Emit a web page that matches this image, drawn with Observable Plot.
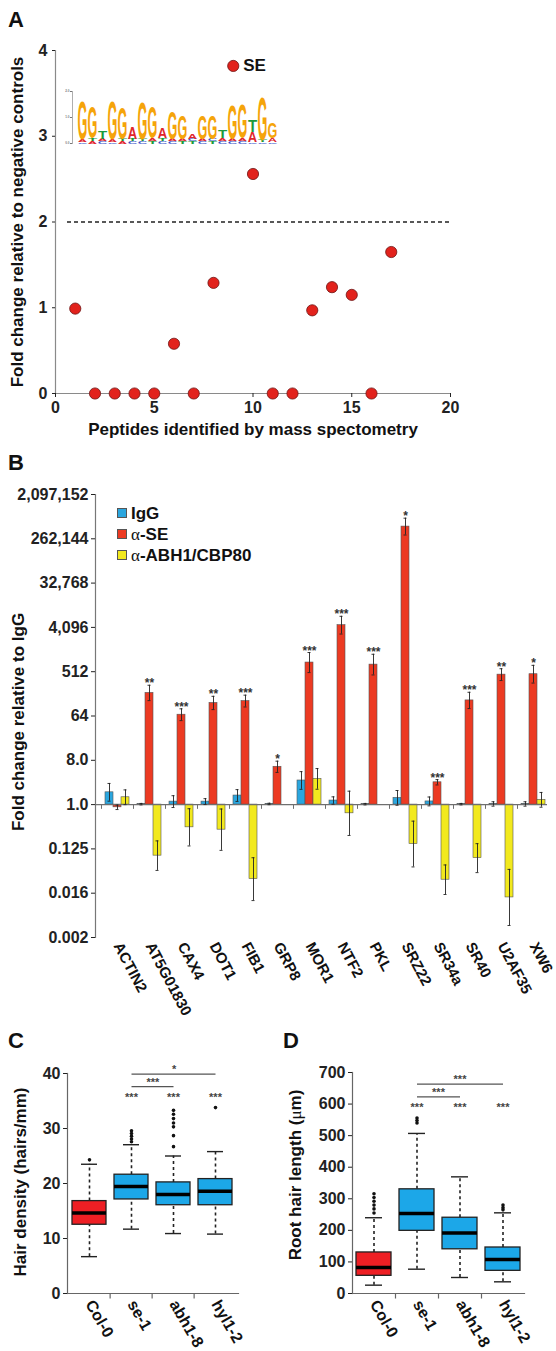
<!DOCTYPE html>
<html><head><meta charset="utf-8">
<script src="https://cdn.jsdelivr.net/npm/d3@7"></script>
<script src="https://cdn.jsdelivr.net/npm/@observablehq/plot@0.6"></script>
<style>
html,body{margin:0;padding:0;background:#fff;}
#root{position:relative;width:556px;height:1351px;overflow:hidden;font-family:"Liberation Sans",Arial,sans-serif;color:#111;}
#root svg{position:absolute;overflow:visible;}
.lbl{position:absolute;font-weight:bold;white-space:nowrap;line-height:1;}
.panel{font-size:22px;}
.title{font-size:17px;}
.rot{transform:translate(-50%,-50%) rotate(-90deg);}
.hx{transform:translate(-50%,-50%);}
.greek{font-family:"Liberation Serif","DejaVu Serif",serif;font-weight:normal;}
.legend{position:absolute;left:117px;top:503px;font-weight:bold;font-size:17px;line-height:21px;}
.legend .sw{display:inline-block;width:8px;height:8px;border:1px solid #555;margin-right:4px;vertical-align:1px;}
</style></head><body><div id="root"></div>
<script>
// ---------------- DATA ----------------
// Panel A
const peptideIds = [1,2,3,4,5,6,7,8,9,10,11,12,13,14,15,16,17];
const peptideFold = [0.99,0,0,0,0,0.58,0,1.29,3.82,2.56,0,0,0.97,1.24,1.15,0,1.65];
const peptideLabels = ["","","","","","","","","SE","","","","","","","",""];
const foldThreshold = 2;
const aTicksX = [0,5,10,15,20];
const aTicksY = [0,1,2,3,4];

// Motif logo (bits, bottom to top)
const logoColumns = [
  [["C",0.06],["A",0.12],["G",1.5]],
  [["A",0.1],["T",0.1],["G",1.2]],
  [["C",0.08],["A",0.1],["T",0.3]],
  [["C",0.06],["A",0.1],["G",1.5]],
  [["A",0.1],["T",0.08],["G",1.2]],
  [["C",0.08],["T",0.1],["A",0.45]],
  [["C",0.08],["T",0.1],["G",1.45]],
  [["T",0.08],["A",0.12],["G",1.2]],
  [["C",0.08],["T",0.12],["A",0.4]],
  [["C",0.08],["A",0.1],["G",1.05]],
  [["T",0.08],["A",0.1],["G",0.92]],
  [["T",0.08],["C",0.1],["A",0.22]],
  [["C",0.08],["A",0.1],["G",0.92]],
  [["T",0.1],["C",0.08],["G",0.92]],
  [["C",0.08],["A",0.12],["T",0.32]],
  [["C",0.08],["A",0.1],["G",1.3]],
  [["C",0.08],["A",0.12],["G",1.3]],
  [["C",0.06],["A",0.4],["T",0.45]],
  [["C",0.06],["T",0.08],["G",1.7]],
  [["C",0.06],["A",0.15],["G",0.6]]
];
const logoColors = {A:"#e0262c", C:"#3452c8", G:"#f5a40a", T:"#1c9a3b"};

// Panel B
const genes = ["ACTIN2","AT5G01830","CAX4","DOT1","FIB1","GRP8","MOR1","NTF2","PKL","SRZ22","SR34a","SR40","U2AF35","XW6"];
const iggFold = [1.78,1.02,1.15,1.15,1.53,1.03,3.1,1.21,1.02,1.37,1.16,1.02,1.03,1.03];
const seFold  = [0.88,189,68,118,129,5.9,787,4545,714,465000,2.85,133,446,455];
const abhFold = [1.41,0.091,0.344,0.308,0.0302,null,3.34,0.664,null,0.157,0.0294,0.081,0.0128,1.25];
const iggErrLog2 = [0.6,0.05,0.4,0.2,0.4,0.05,0.6,0.25,0.05,0.5,0.3,0.05,0.15,0.15];
const seErrLog2  = [0.15,0.52,0.4,0.45,0.4,0.38,0.68,0.6,0.7,0.57,0.18,0.55,0.4,0.6];
const abhErrLog2 = [0.5,1.0,1.26,1.4,1.45,null,0.7,1.5,null,1.55,1.0,0.98,1.9,0.5];
const seSignificance = ["","**","***","**","***","*","***","***","***","*","***","***","**","*"];
const seriesKeys = ["IgG","SE","ABH"];
const seriesLabels = ["IgG","α-SE","α-ABH1/CBP80"];
const seriesColors = ["#2aa6df","#ec3a22","#f2e91e"];
const foldTickValues = [2097152,262144,32768,4096,512,64,8,1,0.125,0.015625,0.001953125];
const foldTickLabels = ["2,097,152","262,144","32,768","4,096","512","64","8.0","1.0","0.125","0.016","0.002"];

// Panels C & D
const genotypes = ["Col-0","se-1","abh1-8","hyl1-2"];
const genotypeFills = ["#ee1f24","#1ca7e8","#1ca7e8","#1ca7e8"];
const hairQ1  = [12.5,17.1,16.05,16.05];
const hairMed = [14.65,19.45,18.0,18.6];
const hairQ3  = [16.8,21.6,20.2,20.8];
const hairLo  = [6.7,11.7,10.9,10.8];
const hairHi  = [23.5,27.05,25.0,25.8];
const hairOutliers = [["Col-0",[24.3]],["se-1",[27.6,28.1,28.6,29.1,29.6]],["abh1-8",[26.7,28.7,30.3,31.0,31.8,32.6,33.3]],["hyl1-2",[33.8]]];
const hairStars = [["se-1","***"],["abh1-8","***"],["hyl1-2","***"]];
const hairStarLevel = 35.6;
const hairBrackets = [["se-1","hyl1-2",39.9,"*"],["se-1","abh1-8",37.6,"***"]];
const hairTicks = [0,10,20,30,40];

const rootQ1  = [56,198.5,140,71.8];
const rootMed = [82,253,192,107.7];
const rootQ3  = [130,330,240,145.7];
const rootLo  = [26.4,77,50.7,37];
const rootHi  = [240,507,369.5,255.5];
const rootOutliers = [["Col-0",[255,268,280,292,304,316]],["se-1",[540,548,556]],["abh1-8",[]],["hyl1-2",[265,272,280]]];
const rootStars = [["se-1","***"],["abh1-8","***"],["hyl1-2","***"]];
const rootStarLevel = 588;
const rootBrackets = [["se-1","hyl1-2",663,"***"],["se-1","abh1-8",623,"***"]];
const rootTicks = [0,100,200,300,400,500,600,700];

// ---------------- LAYOUT HELPERS ----------------
const root = document.getElementById("root");
const FONT = '"Liberation Sans", Arial, sans-serif';
const baseStyle = {fontFamily: FONT, fontWeight: "bold", background: "transparent", color: "#111", overflow: "visible"};
function put(svg, left, top) { svg.style.left = left + "px"; svg.style.top = top + "px"; root.appendChild(svg); return svg; }
function addText(html, cls, left, top) {
  const d = document.createElement("div");
  d.className = "lbl " + cls; d.innerHTML = html;
  d.style.left = left + "px"; d.style.top = top + "px";
  root.appendChild(d);
}

// ---------------- PANEL A ----------------
const peptides = peptideIds.map((id, i) => ({id, fold: peptideFold[i], label: peptideLabels[i]}));
const plotA = Plot.plot({
  width: 556, height: 440, marginLeft: 55, marginRight: 106, marginTop: 50, marginBottom: 47,
  style: {...baseStyle, fontSize: "16px"},
  x: {domain: [0, 20]}, y: {domain: [0, 4]},
  marks: [
    Plot.ruleY([foldThreshold], {stroke: "#222", strokeWidth: 1.3, strokeDasharray: "4,3", insetLeft: 12}),
    Plot.ruleX([0], {stroke: "#8a8a8a", strokeWidth: 1.2}),
    Plot.ruleY([0], {stroke: "#8a8a8a", strokeWidth: 1.2}),
    Plot.axisX({ticks: aTicksX, tickFormat: d => String(d), tickSize: 4, tickPadding: 4, fontSize: 16, fontWeight: "bold", label: null, color: "#222"}),
    Plot.axisY({ticks: aTicksY, tickFormat: d => String(d), tickSize: 3, tickPadding: 5, fontSize: 16, fontWeight: "bold", label: null, color: "#222"}),
    Plot.dot(peptides, {x: "id", y: "fold", r: 5.6, fill: "#e2221c", stroke: "#6d1414", strokeWidth: 0.8}),
    Plot.text(peptides.filter(d => d.label), {x: "id", y: "fold", text: "label", dx: 10, textAnchor: "start", fontSize: 17, fontWeight: "bold"})
  ]
});
put(plotA, 0, 0);

// Motif logo inset
const logoW = 225, logoH = 62, logoML = 13, logoMR = 9, logoMT = 5, logoMB = 5;
const pxPerBit = (logoH - logoMT - logoMB) / 2;
const logoLetters = [];
logoColumns.forEach((col, i) => {
  let base = 0;
  col.forEach(([letter, bits]) => { logoLetters.push({pos: i + 1, letter, y0: base, bits}); base += bits; });
});
const plotLogo = Plot.plot({
  width: logoW, height: logoH, marginLeft: logoML, marginRight: logoMR, marginTop: logoMT, marginBottom: logoMB,
  style: {...baseStyle, fontSize: "4px"},
  x: {domain: logoColumns.map((_, i) => i + 1), padding: 0, axis: null},
  y: {domain: [0, 2], axis: null},
  marks: [
    Plot.frame({anchor: "left", stroke: "#777", strokeWidth: 0.6, insetLeft: -3}),
    Plot.axisY({ticks: [0, 1, 2], tickSize: 2, tickPadding: 1, fontSize: 3, label: null, color: "#777", dx: -3}),
    Plot.text(logoLetters, {x: "pos", y: "y0", text: "letter", lineAnchor: "bottom",
      fontSize: d => d.bits * pxPerBit / 0.716, fill: d => logoColors[d.letter], fontWeight: "bold"})
  ]
});
{
  const colW = (logoW - logoML - logoMR) / logoColumns.length;
  const glyphW = {A: 0.72, C: 0.70, G: 0.74, T: 0.62};
  const groups = plotLogo.querySelectorAll(":scope > g");
  const g = groups[groups.length - 1];
  g.querySelectorAll("text").forEach(t => {
    const fs = parseFloat(t.getAttribute("font-size"));
    const sx = colW * 0.92 / ((glyphW[t.textContent] || 0.7) * fs);
    t.setAttribute("transform", (t.getAttribute("transform") || "") + ` scale(${sx},1)`);
  });
}
put(plotLogo, 62, 86);

addText("A", "panel", 8, 9);
addText("Fold change relative to negative controls", "title rot", 17, 222);
addText("Peptides identified by mass spectometry", "title hx", 253, 429);

// ---------------- PANEL B ----------------
const keyOf = (g, s) => g + "|" + s;
const xKeys = genes.flatMap(g => [keyOf(g, "gap"), ...seriesKeys.map(s => keyOf(g, s))]);
const fc = [iggFold, seFold, abhFold];
const fe = [iggErrLog2, seErrLog2, abhErrLog2];
const rowsB = [];
genes.forEach((g, i) => {
  seriesKeys.forEach((s, si) => {
    const v = fc[si][i];
    if (v == null) return;
    const e = fe[si][i];
    rowsB.push({gene: g, key: keyOf(g, s), series: seriesLabels[si], value: v, lo: v / Math.pow(2, e), hi: v * Math.pow(2, e)});
  });
});
const starRows = genes.map((g, i) => ({key: keyOf(g, "SE"), text: seSignificance[i], y: seFold[i] * Math.pow(2, seErrLog2[i])})).filter(d => d.text);
const foldLabelMap = new Map(foldTickValues.map((v, i) => [v, foldTickLabels[i]]));
const plotB = Plot.plot({
  width: 556, height: 560, marginLeft: 95, marginRight: 9, marginTop: 14, marginBottom: 103,
  style: {...baseStyle, fontSize: "16px"},
  x: {domain: xKeys, padding: 0},
  y: {type: "log", base: 2, domain: [0.001953125, 2097152]},
  color: {domain: seriesLabels, range: seriesColors},
  marks: [
    Plot.frame({anchor: "left", stroke: "#777", strokeWidth: 1.2}),
    Plot.axisY({ticks: foldTickValues, tickFormat: d => foldLabelMap.get(d), tickSize: 4, tickPadding: 3, fontSize: 16, fontWeight: "bold", label: null, color: "#222"}),
    Plot.axisX({ticks: genes.map(g => keyOf(g, "SE")), tickFormat: k => k.split("|")[0], tickRotate: 62, tickSize: 0, tickPadding: 6, fontSize: 15, fontWeight: "bold", label: null, color: "#111"}),
    Plot.barY(rowsB, {x: "key", y1: 1, y2: "value", fill: "series", stroke: "#555", strokeWidth: 0.6}),
    Plot.ruleY([1], {stroke: "#6f6f6f", strokeWidth: 1.2}),
    Plot.ruleX(genes.map(g => keyOf(g, "gap")), {x: d => d, y1: 1, y2: 0.8, stroke: "#6f6f6f"}),
    Plot.ruleX(rowsB, {x: "key", y1: "lo", y2: "hi", stroke: "#222", strokeWidth: 0.9}),
    Plot.tickY(rowsB, {x: "key", y: "hi", insetLeft: 2.5, insetRight: 2.5, stroke: "#222", strokeWidth: 0.9}),
    Plot.tickY(rowsB, {x: "key", y: "lo", insetLeft: 2.5, insetRight: 2.5, stroke: "#222", strokeWidth: 0.9}),
    Plot.text(starRows, {x: "key", y: "y", text: "text", lineAnchor: "bottom", dy: 2, fontSize: 12, fontWeight: "bold", fill: "#333"})
  ]
});
put(plotB, 0, 480);
addText("B", "panel", 8, 452);
addText("Fold change relative to IgG", "title rot", 18, 722);
{
  const lg = document.createElement("div");
  lg.className = "legend";
  lg.innerHTML = seriesLabels.map((s, i) =>
    `<div><span class="sw" style="background:${seriesColors[i]}"></span>${s.replace("α", '<span class="greek">α</span>')}</div>`).join("");
  root.appendChild(lg);
}

// ---------------- PANELS C & D ----------------
function boxPanel(cfg) {
  const boxes = genotypes.map((c, i) => ({cat: c, q1: cfg.q1[i], med: cfg.med[i], q3: cfg.q3[i], lo: cfg.lo[i], hi: cfg.hi[i], fill: genotypeFills[i]}));
  const outl = cfg.outliers.flatMap(([c, vals]) => vals.map(v => ({cat: c, v})));
  const step = (cfg.width - cfg.ml - cfg.mr) / genotypes.length;
  const br = cfg.brackets.map(([a, b, y, t]) => ({a, b, y, t}));
  const yMax = cfg.yTicks[cfg.yTicks.length - 1];
  return Plot.plot({
    width: cfg.width, height: cfg.height, marginLeft: cfg.ml, marginRight: cfg.mr, marginTop: cfg.mt, marginBottom: cfg.mb,
    style: {...baseStyle, fontSize: "16px"},
    x: {domain: genotypes, paddingInner: 0.18, paddingOuter: 0.09},
    y: {domain: [0, yMax]},
    marks: [
      Plot.frame({anchor: "left", stroke: "#666", strokeWidth: 1.2}),
      Plot.frame({anchor: "bottom", stroke: "#666", strokeWidth: 1.2}),
      Plot.ruleX(genotypes.slice(1), {x: d => d, y1: 0, y2: -yMax * 0.025, dx: -step / 2, stroke: "#666", strokeWidth: 1.2}),
      Plot.axisY({ticks: cfg.yTicks, tickFormat: d => String(d), tickSize: 4, tickPadding: 3, fontSize: 16, fontWeight: "bold", label: null, color: "#222"}),
      Plot.axisX({tickRotate: 60, tickSize: 0, tickPadding: 8, fontSize: 16, fontWeight: "bold", label: null, color: "#111"}),
      Plot.ruleX(boxes, {x: "cat", y1: "q3", y2: "hi", stroke: "#222", strokeWidth: 1.6, strokeDasharray: "3,3"}),
      Plot.ruleX(boxes, {x: "cat", y1: "lo", y2: "q1", stroke: "#222", strokeWidth: 1.6, strokeDasharray: "3,3"}),
      Plot.tickY(boxes, {x: "cat", y: "hi", insetLeft: 9, insetRight: 9, stroke: "#222", strokeWidth: 1.4}),
      Plot.tickY(boxes, {x: "cat", y: "lo", insetLeft: 9, insetRight: 9, stroke: "#222", strokeWidth: 1.4}),
      Plot.barY(boxes, {x: "cat", y1: "q1", y2: "q3", fill: "fill", stroke: "#222", strokeWidth: 1.3}),
      Plot.tickY(boxes, {x: "cat", y: "med", stroke: "#000", strokeWidth: 3.5}),
      Plot.dot(outl, {x: "cat", y: "v", r: 1.8, fill: "#111", stroke: "none"}),
      Plot.text(cfg.stars, {x: d => d[0], y: cfg.starLevel, text: d => d[1], fontSize: 11, fontWeight: "bold", fill: "#444"}),
      Plot.link(br, {x1: "a", x2: "b", y1: "y", y2: "y", stroke: "#555", strokeWidth: 1.2}),
      Plot.text(br, {x: "a", y: "y", text: "t", lineAnchor: "bottom", dy: -1, fontSize: 11, fontWeight: "bold", fill: "#444"})
    ]
  });
}
function shiftBracketText(svg, cfg) {
  // move bracket labels to the midpoint between the bracketed groups
  const step = (cfg.width - cfg.ml - cfg.mr) / genotypes.length;
  const groups = svg.querySelectorAll(":scope > g");
  const g = groups[groups.length - 1];
  g.querySelectorAll("text").forEach((t, i) => {
    const [a, b] = cfg.brackets[i];
    const off = (genotypes.indexOf(b) - genotypes.indexOf(a)) * step / 2;
    t.setAttribute("transform", (t.getAttribute("transform") || "") + ` translate(${off},0)`);
  });
}
const cfgC = {width: 278, height: 300, ml: 67, mr: 40, mt: 23, mb: 57, q1: hairQ1, med: hairMed, q3: hairQ3, lo: hairLo, hi: hairHi,
  outliers: hairOutliers, stars: hairStars, starLevel: hairStarLevel, brackets: hairBrackets, yTicks: hairTicks};
const plotC = boxPanel(cfgC); shiftBracketText(plotC, cfgC); put(plotC, 0, 1050);
const cfgD = {width: 278, height: 300, ml: 74, mr: 32, mt: 22, mb: 57, q1: rootQ1, med: rootMed, q3: rootQ3, lo: rootLo, hi: rootHi,
  outliers: rootOutliers, stars: rootStars, starLevel: rootStarLevel, brackets: rootBrackets, yTicks: rootTicks};
const plotD = boxPanel(cfgD); shiftBracketText(plotD, cfgD); put(plotD, 278, 1050);

addText("C", "panel", 8, 1030);
addText("D", "panel", 283, 1030);
addText("Hair density (hairs/mm)", "title rot", 20, 1182);
addText('Root hair length (<span class="greek">μ</span>m)', "title rot", 295, 1175);
</script></body></html>
